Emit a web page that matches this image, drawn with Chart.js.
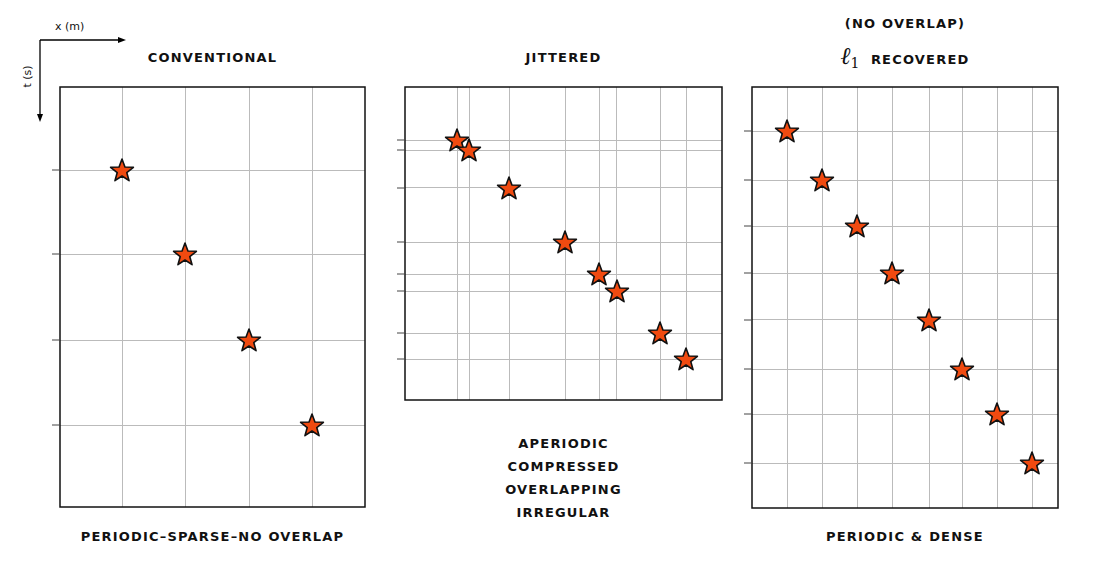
<!DOCTYPE html>
<html><head><meta charset="utf-8">
<script src="https://cdn.jsdelivr.net/npm/chart.js@4"></script>
<style>
body{margin:0;background:#fff;width:1100px;height:580px;position:relative;overflow:hidden;font-family:"DejaVu Sans",sans-serif}
.t{position:absolute;font-weight:bold;font-size:13px;letter-spacing:1.2px;color:#111;text-align:center;white-space:nowrap}
.p{position:absolute}
</style></head><body>
<svg width="1100" height="580" style="position:absolute;left:0;top:0">
<line x1="40" y1="40" x2="122" y2="40" stroke="#000" stroke-width="1.3"/><polygon points="126,40 118,37 118,43" fill="#000"/>
<line x1="40" y1="40" x2="40" y2="118" stroke="#000" stroke-width="1.3"/><polygon points="40,122 37,114 43,114" fill="#000"/>
</svg>
<div class="t" style="left:55px;top:20px;font-weight:normal;font-size:11px;letter-spacing:0">x (m)</div>
<div class="t" style="left:16px;top:70px;font-weight:normal;font-size:11px;letter-spacing:0;transform:rotate(-90deg)">t (s)</div>
<div class="t" style="left:60px;width:305px;top:50px">CONVENTIONAL</div>
<div class="t" style="left:405px;width:317px;top:50px">JITTERED</div>
<div class="t" style="left:752px;width:306px;top:16px">(NO OVERLAP)</div>
<div class="t" style="left:752px;width:306px;top:42px"><span style="font-family:'DejaVu Serif',serif;font-style:italic;font-weight:normal;font-size:24px;letter-spacing:0">ℓ</span><span style="font-family:'DejaVu Serif',serif;font-weight:normal;font-size:14px;letter-spacing:0;position:relative;top:4px">1</span>&nbsp; RECOVERED</div>
<div class="t" style="left:60px;width:305px;top:529px">PERIODIC–SPARSE–NO OVERLAP</div>
<div class="t" style="left:405px;width:317px;top:432px;line-height:23px">APERIODIC<br>COMPRESSED<br>OVERLAPPING<br>IRREGULAR</div>
<div class="t" style="left:752px;width:306px;top:529px">PERIODIC &amp; DENSE</div>
<div class="p" style="left:50px;top:77px;width:325px;height:440px"><canvas id="c1"></canvas></div>
<div class="p" style="left:395px;top:77px;width:337px;height:333px"><canvas id="c2"></canvas></div>
<div class="p" style="left:742px;top:77px;width:326px;height:441px"><canvas id="c3"></canvas></div>
<script>
// Panel 1: conventional
const convX = [62,125,189,252];
const convT = [83,167,253,338];
// Panel 2: jittered
const jitX = [52,64,104,160,194,212,255,281];
const jitT = [53,63,101,155,187,204,246,272];
// Panel 3: recovered
const recX = [35,70,105,140,177,210,245,280];
const recT = [44,93,139,186,233,282,327,376];

function starImg(){
  const c=document.createElement('canvas');c.width=28;c.height=28;const g=c.getContext('2d');
  g.beginPath();
  for(let i=0;i<10;i++){const r=i%2?5:12;const a=-Math.PI/2+i*Math.PI/5;g.lineTo(14+r*Math.cos(a),15+r*Math.sin(a));}
  g.closePath();g.fillStyle='#f04a10';g.fill();g.lineWidth=1.6;g.strokeStyle='#111';g.lineJoin='round';g.stroke();
  return c;
}
const star=starImg();
const frame={id:'frame',afterDraw(ch){const a=ch.chartArea,g=ch.ctx,y=ch.scales.y;g.save();g.strokeStyle='#111';g.lineWidth=1.5;g.strokeRect(a.left,a.top,a.right-a.left,a.bottom-a.top);
  g.lineWidth=1;g.strokeStyle='#444';y.ticks.forEach(t=>{const p=y.getPixelForValue(t.value);g.beginPath();g.moveTo(a.left-8,p);g.lineTo(a.left,p);g.stroke();});g.restore();}};
function make(id,xs,ts,xmax,tmax){
  new Chart(document.getElementById(id),{type:'scatter',
    data:{datasets:[{data:xs.map((x,i)=>({x:x,y:ts[i]})),pointStyle:star,pointRadius:14}]},
    options:{responsive:true,maintainAspectRatio:false,animation:false,layout:{padding:10,autoPadding:false},
      plugins:{legend:{display:false},tooltip:{enabled:false}},
      scales:{
        x:{min:0,max:xmax,afterBuildTicks:s=>{s.ticks=xs.map(v=>({value:v}));},ticks:{display:false},grid:{color:'#bbb',drawTicks:false},border:{display:false}},
        y:{min:0,max:tmax,reverse:true,afterBuildTicks:s=>{s.ticks=ts.map(v=>({value:v}));},ticks:{display:false},grid:{color:'#bbb',drawTicks:false},border:{display:false}}
      }},plugins:[frame]});
}
make('c1',convX,convT,305,420);
make('c2',jitX,jitT,317,313);
make('c3',recX,recT,306,421);
</script></body></html>
